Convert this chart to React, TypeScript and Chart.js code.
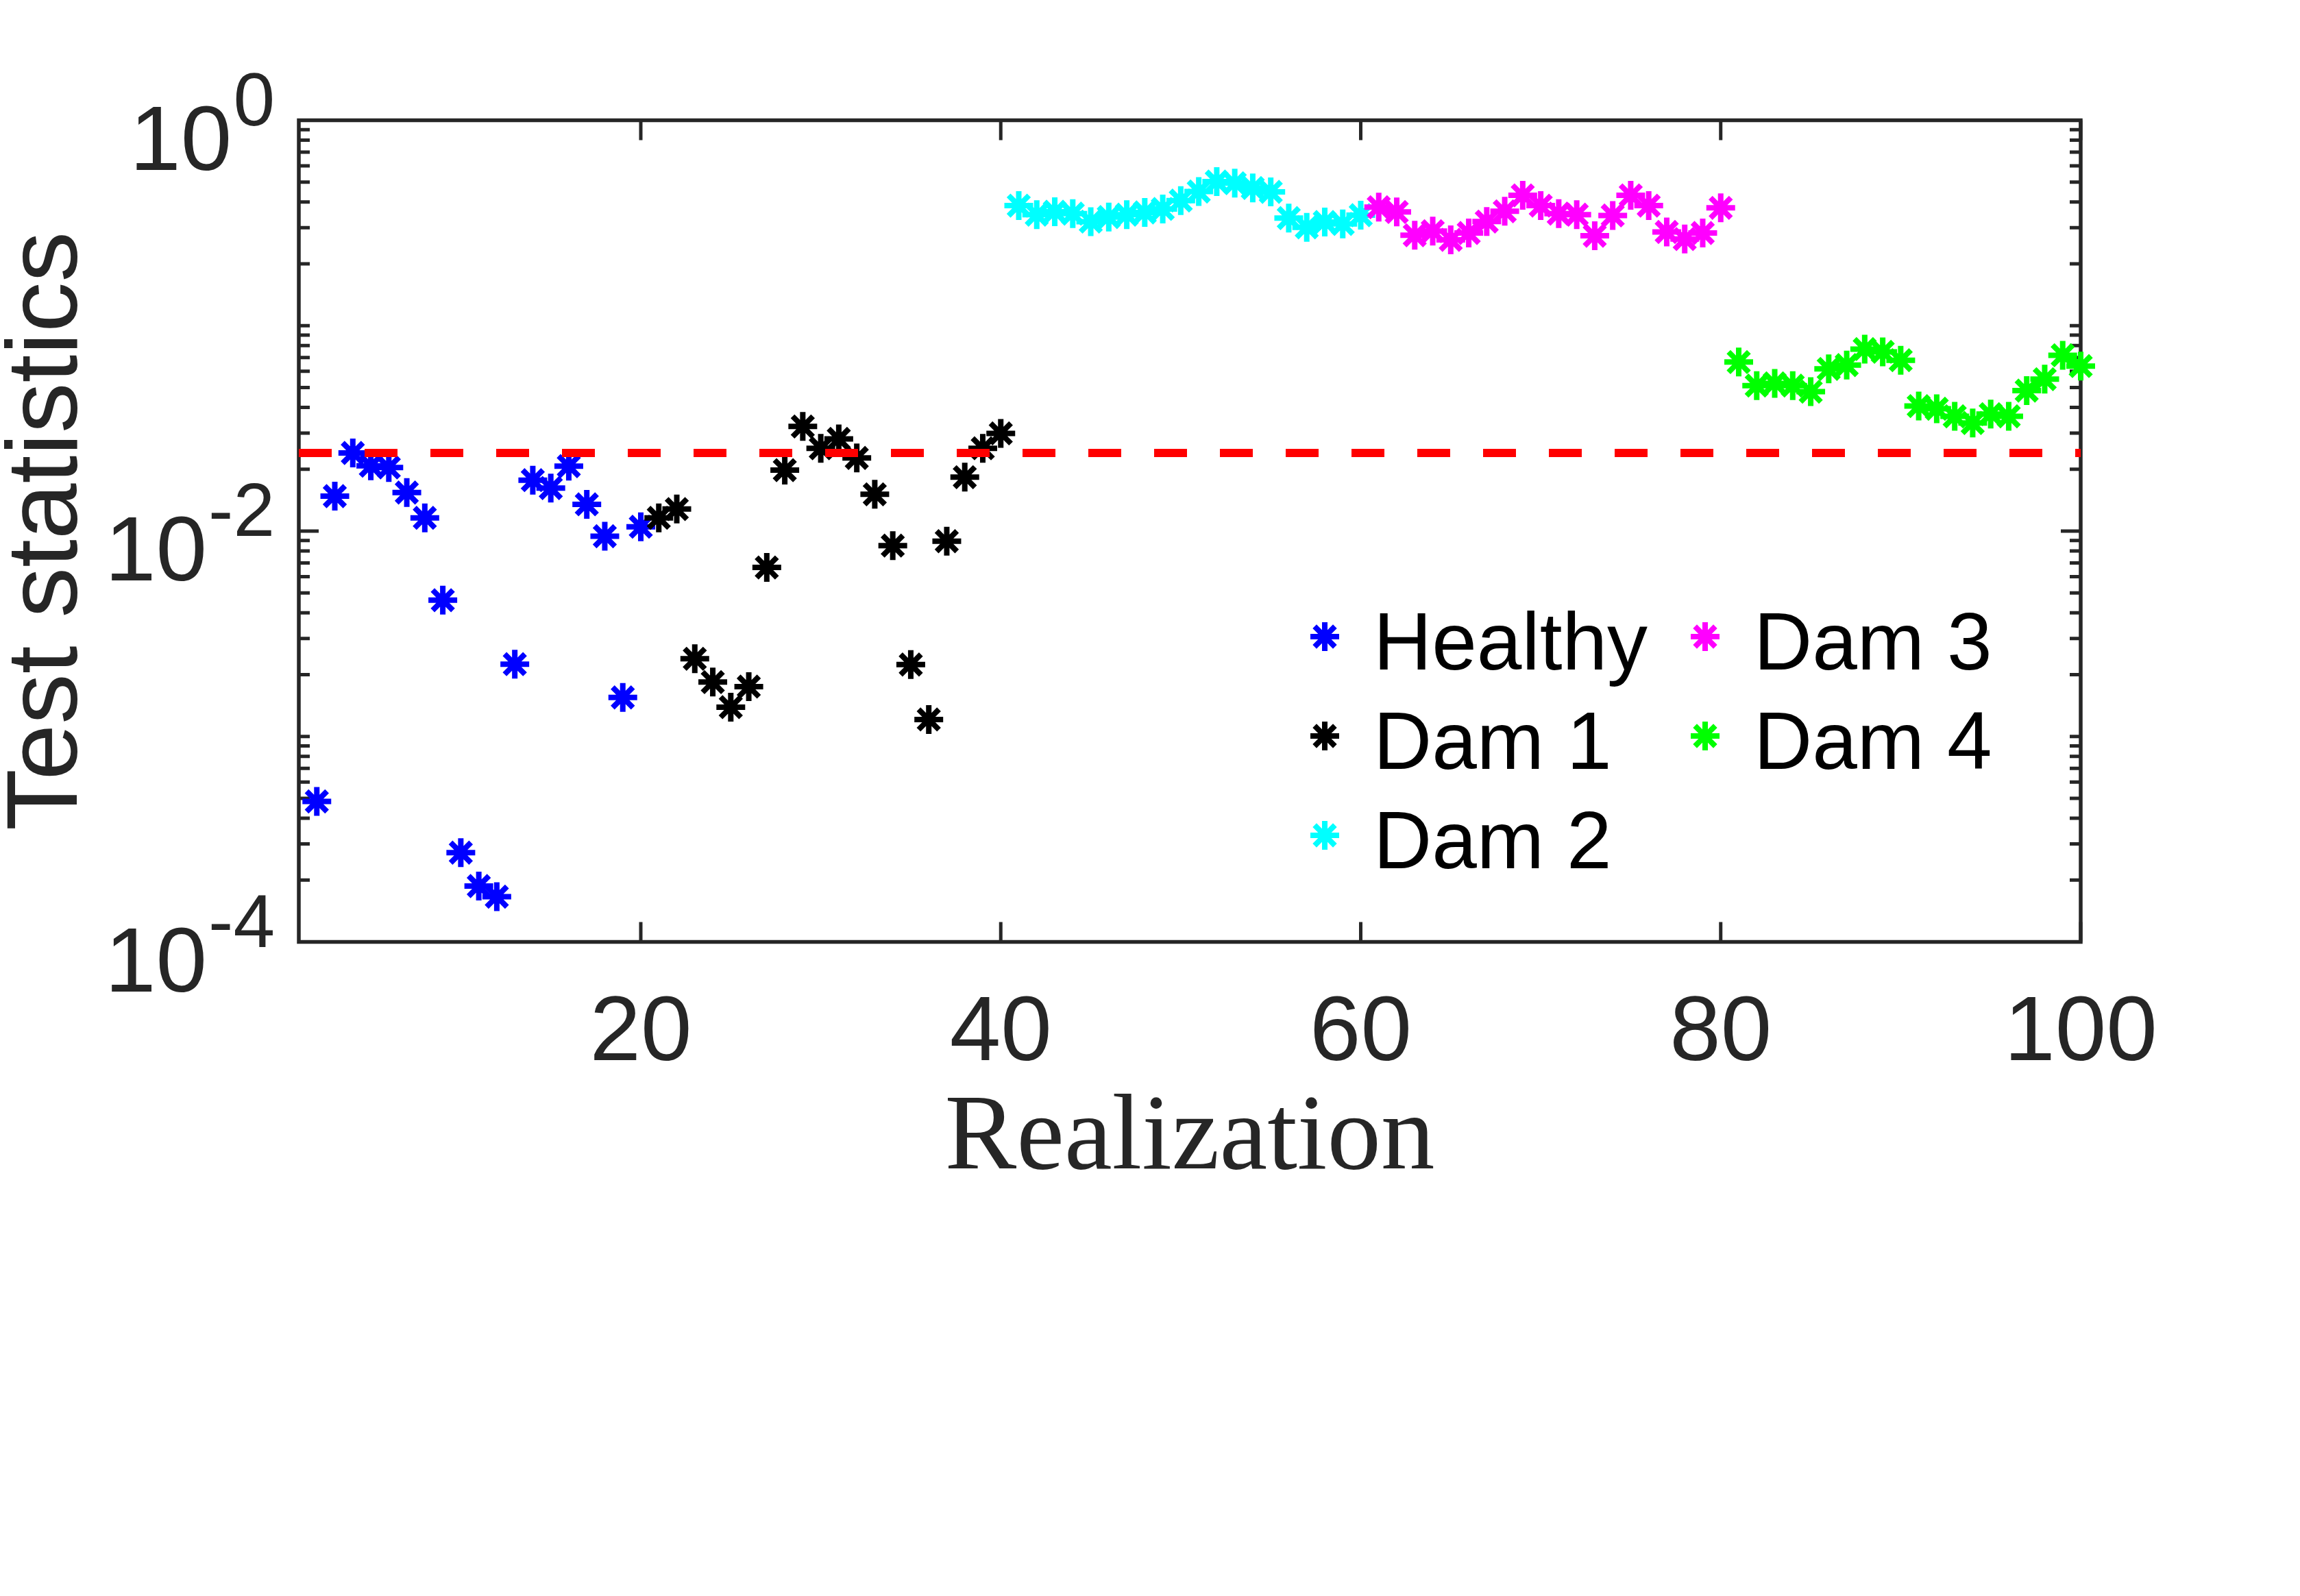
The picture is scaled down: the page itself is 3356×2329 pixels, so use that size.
import { useEffect, useRef } from "react";
import { Chart, registerables } from "chart.js";

Chart.register(...registerables);

// realization index (x) and test statistic (y) for each class
const healthyRealization = [2, 3, 4, 5, 6, 7, 8, 9, 10, 11, 12, 13, 14, 15, 16, 17, 18, 19, 20];
const healthyStat = [
    4.83e-4, 0.0148, 0.024, 0.0208, 0.0204, 0.0154, 0.0116, 0.00461, 2.72e-4, 1.87e-4,
    1.66e-4, 0.00225, 0.0177, 0.0162, 0.0207, 0.0135, 0.00944, 0.00155, 0.0105,
];

const dam1Realization = [21, 22, 23, 24, 25, 26, 27, 28, 29, 30, 31, 32, 33, 34, 35, 36, 37, 38, 39, 40];
const dam1Stat = [
    0.0116, 0.0128, 0.00239, 0.00184, 0.00139, 0.00175, 0.00665, 0.0198, 0.0323, 0.0253,
    0.0281, 0.0227, 0.0151, 0.0085, 0.00224, 0.00121, 0.00893, 0.0183, 0.0253, 0.0299,
];

const dam2Realization = [41, 42, 43, 44, 45, 46, 47, 48, 49, 50, 51, 52, 53, 54, 55, 56, 57, 58, 59, 60];
const dam2Stat = [
    0.384, 0.347, 0.3585, 0.351, 0.321, 0.338, 0.347, 0.356, 0.37, 0.4065,
    0.45, 0.503, 0.494, 0.468, 0.448, 0.334, 0.301, 0.3195, 0.313, 0.345,
];

const dam3Realization = [61, 62, 63, 64, 65, 66, 67, 68, 69, 70, 71, 72, 73, 74, 75, 76, 77, 78, 79, 80];
const dam3Stat = [
    0.3775, 0.3576, 0.2755, 0.2885, 0.2617, 0.2826, 0.3212, 0.3604, 0.431, 0.384,
    0.351, 0.347, 0.274, 0.344, 0.431, 0.384, 0.286, 0.264, 0.2826, 0.3746,
];

const dam4Realization = [81, 82, 83, 84, 85, 86, 87, 88, 89, 90, 91, 92, 93, 94, 95, 96, 97, 98, 99, 100];
const dam4Stat = [
    0.0665, 0.0511, 0.0524, 0.0511, 0.0477, 0.0616, 0.0643, 0.0769, 0.0746, 0.0679,
    0.0406, 0.0394, 0.0362, 0.0336, 0.0371, 0.0362, 0.0483, 0.0549, 0.0718, 0.0636,
];

const threshold = 0.024;

const xTicks = [20, 40, 60, 80, 100];
const yMajorExponents = [-4, -2, 0];
const yMinorMantissas = [1, 2, 3, 4, 5, 6, 7, 8, 9];

const INK = "#262626";
const SANS = '"Liberation Sans", Arial, sans-serif';
const SERIF = '"Liberation Serif", "Times New Roman", serif';
const MARK_R = 21;
const MARK_W = 8;

const toPoints = (xs: number[], ys: number[]) => xs.map((x, i) => ({ x, y: ys[i] }));

const series = [
    { label: "Healthy", color: "#0000ff", xs: healthyRealization, ys: healthyStat },
    { label: "Dam 1", color: "#000000", xs: dam1Realization, ys: dam1Stat },
    { label: "Dam 2", color: "#00ffff", xs: dam2Realization, ys: dam2Stat },
    { label: "Dam 3", color: "#ff00ff", xs: dam3Realization, ys: dam3Stat },
    { label: "Dam 4", color: "#00ff00", xs: dam4Realization, ys: dam4Stat },
];

function drawStar(ctx: CanvasRenderingContext2D, cx: number, cy: number, color: string) {
    ctx.strokeStyle = color;
    ctx.lineWidth = MARK_W;
    ctx.beginPath();
    for (let i = 0; i < 4; i++) {
        const a = (i * Math.PI) / 4;
        const dx = Math.cos(a) * MARK_R;
        const dy = Math.sin(a) * MARK_R;
        ctx.moveTo(cx - dx, cy - dy);
        ctx.lineTo(cx + dx, cy + dy);
    }
    ctx.stroke();
}

const matlabAxes = {
    id: "matlabAxes",
    beforeDatasetsDraw(chart: any) {
        const { ctx, chartArea: a, scales } = chart;
        const xs = scales.x;
        const ys = scales.y;
        ctx.save();
        ctx.strokeStyle = INK;
        ctx.lineWidth = 5;
        ctx.beginPath();
        for (const v of xTicks) {
            const px = xs.getPixelForValue(v);
            ctx.moveTo(px, a.bottom);
            ctx.lineTo(px, a.bottom - 29);
            ctx.moveTo(px, a.top);
            ctx.lineTo(px, a.top + 29);
        }
        for (let e = yMajorExponents[0]; e < yMajorExponents[yMajorExponents.length - 1]; e++) {
            for (const m of yMinorMantissas) {
                const py = ys.getPixelForValue(m * Math.pow(10, e));
                const len = m === 1 && yMajorExponents.includes(e) ? 29 : 16;
                ctx.moveTo(a.left, py);
                ctx.lineTo(a.left + len, py);
                ctx.moveTo(a.right, py);
                ctx.lineTo(a.right - len, py);
            }
        }
        ctx.stroke();
        ctx.lineWidth = 5.5;
        ctx.strokeRect(a.left, a.top, a.right - a.left, a.bottom - a.top);
        ctx.restore();
    },
    afterDraw(chart: any) {
        const { ctx, chartArea: a, scales } = chart;
        const xs = scales.x;
        const ys = scales.y;
        ctx.save();
        ctx.fillStyle = INK;

        // x tick labels
        ctx.font = `134px ${SANS}`;
        ctx.textAlign = "center";
        ctx.textBaseline = "alphabetic";
        for (const v of xTicks) {
            ctx.fillText(String(v), xs.getPixelForValue(v), a.bottom + 172);
        }

        // y tick labels 10^e
        for (const e of yMajorExponents) {
            const py = ys.getPixelForValue(Math.pow(10, e));
            const sup = e === 0 ? "0" : `-${Math.abs(e)}`;
            ctx.font = `109px ${SANS}`;
            ctx.textAlign = "left";
            const supX = a.left - 35 - ctx.measureText(sup).width;
            ctx.fillText(sup, supX, py + 7);
            ctx.font = `134px ${SANS}`;
            ctx.textAlign = "right";
            ctx.fillText("10", supX - 2, py + 72);
        }

        // axis titles
        ctx.font = `157px ${SERIF}`;
        ctx.textAlign = "center";
        ctx.fillText("Realization", (a.left + a.right) / 2, a.bottom + 330);

        ctx.save();
        ctx.translate(112, (a.top + a.bottom) / 2);
        ctx.rotate(-Math.PI / 2);
        ctx.font = `147px ${SANS}`;
        ctx.fillText("Test statistics", 0, 0);
        ctx.restore();

        // legend, two columns, no box
        const colX = [1933, 2488];
        const rowY = [929, 1074, 1219];
        ctx.font = `118px ${SANS}`;
        ctx.textAlign = "left";
        series.forEach((s, i) => {
            const col = i < 3 ? 0 : 1;
            const row = i < 3 ? i : i - 3;
            drawStar(ctx, colX[col], rowY[row], s.color);
            ctx.fillStyle = "#000000";
            ctx.fillText(s.label, colX[col] + 71, rowY[row] + 47.5);
        });
        ctx.restore();
    },
};

export default function App() {
    const chartRef = useRef<HTMLCanvasElement>(null);

    useEffect(() => {
        if (!chartRef.current) return;
        const n = series.length;
        const chart = new Chart(chartRef.current, {
            type: "scatter",
            data: {
                datasets: [
                    ...series.map((s, i) => ({
                        label: s.label,
                        data: toPoints(s.xs, s.ys),
                        showLine: false,
                        pointStyle: "star" as const,
                        pointRadius: MARK_R,
                        pointBorderWidth: MARK_W,
                        borderColor: s.color,
                        pointBorderColor: s.color,
                        backgroundColor: s.color,
                        clip: false as any,
                        order: n - i,
                    })),
                    {
                        label: "threshold",
                        data: [
                            { x: 1, y: threshold },
                            { x: 100, y: threshold },
                        ],
                        showLine: true,
                        pointRadius: 0,
                        borderColor: "#ff0000",
                        borderWidth: 12,
                        borderDash: [48, 48],
                        borderCapStyle: "butt" as const,
                        order: 0,
                    },
                ],
            },
            options: {
                animation: false,
                responsive: true,
                maintainAspectRatio: false,
                devicePixelRatio: 1,
                events: [],
                layout: { padding: { top: 175.5, right: 320, left: 0, bottom: 0 } },
                plugins: { legend: { display: false }, tooltip: { enabled: false } },
                scales: {
                    x: {
                        type: "linear",
                        min: 1,
                        max: 100,
                        ticks: { display: false },
                        grid: { display: false },
                        border: { display: false },
                        afterFit: (s: any) => {
                            s.height = 954.5;
                        },
                    },
                    y: {
                        type: "logarithmic",
                        min: 1e-4,
                        max: 1,
                        ticks: { display: false },
                        grid: { display: false },
                        border: { display: false },
                        afterFit: (s: any) => {
                            s.width = 436;
                        },
                    },
                },
            },
            plugins: [matlabAxes],
        });
        return () => {
            chart.destroy();
        };
    }, []);

    return (
        <div style={{ position: "absolute", left: 0, top: 0, width: 3356, height: 2329, background: "#ffffff" }}>
            <canvas ref={chartRef} />
        </div>
    );
}
